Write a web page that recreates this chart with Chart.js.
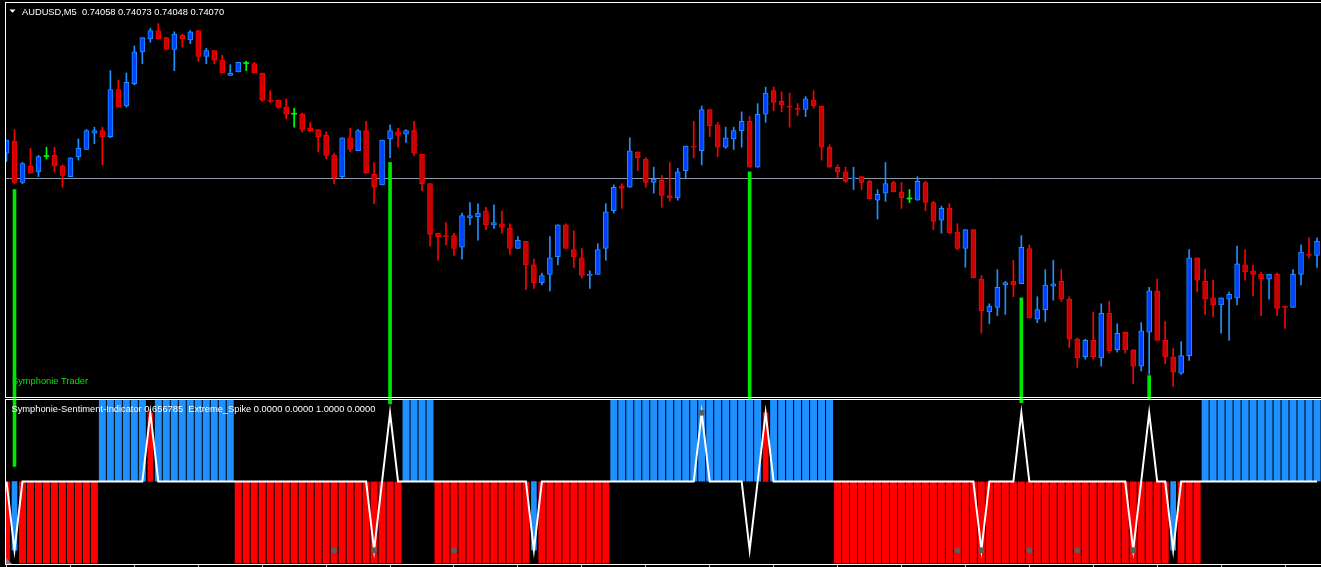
<!DOCTYPE html>
<html><head><meta charset="utf-8">
<script src="https://cdn.jsdelivr.net/npm/chart.js@4/dist/chart.umd.min.js"></script>
<style>html,body{margin:0;padding:0;background:#000;overflow:hidden}canvas{display:block}</style>
</head><body>
<canvas id="c" width="1321" height="567"></canvas>
<script>
const symbol = 'AUDUSD', timeframe = 'M5';
const open = [
0.74145,0.74155,0.74120,0.74134,0.74129,0.74142,0.74143,0.74134,0.74125,0.74142,
0.74148,0.74162,0.74164,0.74159,0.74199,0.74185,0.74204,0.74231,0.74242,0.74249,
0.74243,0.74233,0.74245,0.74241,0.74249,0.74227,0.74232,0.74224,0.74211,0.74214,
0.74221,0.74221,0.74213,0.74190,0.74190,0.74184,0.74178,0.74178,0.74166,0.74165,
0.74160,0.74143,0.74125,0.74158,0.74147,0.74164,0.74127,0.74118,0.74157,0.74163,
0.74161,0.74164,0.74144,0.74119,0.74077,0.74075,0.74075,0.74065,0.74090,0.74091,
0.74096,0.74084,0.74085,0.74081,0.74064,0.74070,0.74050,0.74035,0.74042,0.74057,
0.74084,0.74063,0.74056,0.74041,0.74042,0.74064,0.74096,0.74117,0.74116,0.74146,
0.74140,0.74120,0.74122,0.74109,0.74107,0.74130,0.74151,0.74147,0.74182,0.74169,
0.74150,0.74157,0.74164,0.74172,0.74133,0.74178,0.74198,0.74189,0.74185,0.74183,
0.74182,0.74190,0.74185,0.74150,0.74133,0.74129,0.74123,0.74125,0.74121,0.74105,
0.74111,0.74120,0.74112,0.74106,0.74105,0.74120,0.74103,0.74088,0.74098,0.74078,
0.74064,0.74080,0.74038,0.74010,0.74014,0.74033,0.74036,0.74034,0.74064,0.74004,
0.74012,0.74032,0.74036,0.74021,0.73987,0.73972,0.73986,0.73971,0.74009,0.73978,
0.73993,0.73978,0.73964,0.73993,0.74028,0.73986,0.73972,0.73958,0.73973,0.74056,
0.74036,0.74022,0.74016,0.74021,0.74022,0.74050,0.74045,0.74042,0.74038,0.74042,
0.74015,0.74014,0.74042,0.74059,0.74058];
const high = [
0.74156,0.74165,0.74137,0.74149,0.74143,0.74150,0.74150,0.74135,0.74141,0.74157,
0.74165,0.74167,0.74167,0.74215,0.74207,0.74213,0.74236,0.74243,0.74251,0.74255,
0.74243,0.74248,0.74246,0.74249,0.74249,0.74234,0.74232,0.74228,0.74220,0.74222,
0.74223,0.74222,0.74213,0.74198,0.74190,0.74191,0.74183,0.74179,0.74171,0.74165,
0.74163,0.74145,0.74158,0.74166,0.74165,0.74172,0.74137,0.74156,0.74169,0.74166,
0.74165,0.74172,0.74144,0.74119,0.74077,0.74086,0.74077,0.74094,0.74103,0.74102,
0.74099,0.74101,0.74096,0.74085,0.74074,0.74070,0.74055,0.74043,0.74074,0.74084,
0.74085,0.74079,0.74064,0.74045,0.74068,0.74102,0.74118,0.74119,0.74158,0.74146,
0.74141,0.74133,0.74126,0.74137,0.74132,0.74151,0.74172,0.74185,0.74182,0.74171,
0.74167,0.74167,0.74180,0.74176,0.74187,0.74201,0.74201,0.74197,0.74196,0.74187,
0.74193,0.74198,0.74185,0.74152,0.74135,0.74133,0.74133,0.74125,0.74122,0.74114,
0.74137,0.74121,0.74120,0.74114,0.74125,0.74121,0.74104,0.74100,0.74102,0.74085,
0.74080,0.74080,0.74041,0.74017,0.74046,0.74036,0.74054,0.74075,0.74067,0.74023,
0.74046,0.74054,0.74046,0.74023,0.73988,0.73987,0.74010,0.74017,0.74019,0.74000,
0.73993,0.73978,0.74001,0.74031,0.74038,0.74002,0.73979,0.73985,0.74063,0.74056,
0.74046,0.74037,0.74022,0.74027,0.74066,0.74063,0.74050,0.74044,0.74042,0.74043,
0.74015,0.74046,0.74067,0.74073,0.74073];
const low = [
0.74138,0.74119,0.74119,0.74128,0.74125,0.74140,0.74129,0.74116,0.74125,0.74139,
0.74148,0.74153,0.74135,0.74158,0.74184,0.74184,0.74203,0.74221,0.74239,0.74242,
0.74233,0.74215,0.74235,0.74238,0.74223,0.74221,0.74221,0.74213,0.74211,0.74214,
0.74215,0.74213,0.74189,0.74188,0.74183,0.74174,0.74167,0.74163,0.74163,0.74146,
0.74140,0.74119,0.74124,0.74146,0.74147,0.74128,0.74102,0.74118,0.74141,0.74150,
0.74154,0.74143,0.74113,0.74066,0.74054,0.74067,0.74058,0.74055,0.74084,0.74071,
0.74080,0.74081,0.74077,0.74059,0.74064,0.74029,0.74030,0.74033,0.74028,0.74050,
0.74064,0.74048,0.74039,0.74030,0.74042,0.74054,0.74094,0.74098,0.74116,0.74130,
0.74116,0.74111,0.74099,0.74104,0.74105,0.74124,0.74141,0.74135,0.74159,0.74142,
0.74149,0.74148,0.74150,0.74133,0.74133,0.74171,0.74181,0.74180,0.74167,0.74177,
0.74176,0.74183,0.74139,0.74133,0.74124,0.74120,0.74114,0.74114,0.74106,0.74089,
0.74104,0.74112,0.74098,0.74103,0.74105,0.74096,0.74080,0.74077,0.74077,0.74063,
0.74048,0.74039,0.73992,0.74000,0.74007,0.74008,0.74023,0.74034,0.74005,0.74001,
0.74002,0.74020,0.74019,0.73980,0.73963,0.73970,0.73970,0.73964,0.73975,0.73976,
0.73975,0.73949,0.73960,0.73957,0.73986,0.73966,0.73947,0.73957,0.73969,0.74027,
0.74008,0.74006,0.73992,0.73986,0.74016,0.74037,0.74024,0.74007,0.74021,0.74007,
0.73996,0.74014,0.74033,0.74056,0.74048];
const close = [
0.74156,0.74120,0.74136,0.74128,0.74142,0.74142,0.74134,0.74126,0.74141,0.74149,
0.74164,0.74164,0.74159,0.74199,0.74184,0.74205,0.74231,0.74243,0.74249,0.74242,
0.74233,0.74246,0.74242,0.74248,0.74227,0.74232,0.74224,0.74213,0.74213,0.74222,
0.74221,0.74213,0.74190,0.74189,0.74184,0.74178,0.74178,0.74165,0.74164,0.74159,
0.74143,0.74124,0.74158,0.74148,0.74164,0.74128,0.74116,0.74156,0.74164,0.74160,
0.74164,0.74145,0.74119,0.74076,0.74074,0.74074,0.74064,0.74092,0.74092,0.74094,
0.74084,0.74086,0.74082,0.74064,0.74071,0.74050,0.74035,0.74041,0.74056,0.74084,
0.74064,0.74057,0.74041,0.74042,0.74063,0.74095,0.74116,0.74115,0.74147,0.74141,
0.74120,0.74123,0.74109,0.74107,0.74129,0.74151,0.74150,0.74182,0.74168,0.74150,
0.74158,0.74164,0.74172,0.74133,0.74178,0.74196,0.74188,0.74186,0.74184,0.74182,
0.74191,0.74185,0.74150,0.74133,0.74129,0.74121,0.74124,0.74120,0.74106,0.74110,
0.74119,0.74112,0.74107,0.74106,0.74121,0.74103,0.74087,0.74098,0.74077,0.74064,
0.74080,0.74039,0.74011,0.74015,0.74031,0.74035,0.74033,0.74065,0.74005,0.74012,
0.74033,0.74034,0.74021,0.73987,0.73971,0.73986,0.73972,0.74009,0.73977,0.73992,
0.73978,0.73964,0.73994,0.74028,0.73986,0.73972,0.73959,0.73973,0.74056,0.74037,
0.74021,0.74016,0.74022,0.74025,0.74051,0.74044,0.74042,0.74038,0.74042,0.74013,
0.74014,0.74042,0.74061,0.74058,0.74070];

// Symphonie sentiment histogram (+1 bullish / -1 bearish, null = no bar)
const sentiment = [
-1,null,-1,-1,-1,-1,-1,-1,-1,-1,
-1,-1,1,1,1,1,1,1,null,1,
1,1,1,1,1,1,1,1,1,-1,
-1,-1,-1,-1,-1,-1,-1,-1,-1,-1,
-1,-1,-1,-1,-1,-1,-1,-1,-1,-1,
1,1,1,1,-1,-1,-1,-1,-1,-1,
-1,-1,-1,-1,-1,-1,null,-1,-1,-1,
-1,-1,-1,-1,-1,-1,1,1,1,1,
1,1,1,1,1,1,1,1,1,1,
1,1,1,1,1,null,1,1,1,1,
1,1,1,1,-1,-1,-1,-1,-1,-1,
-1,-1,-1,-1,-1,-1,-1,-1,-1,-1,
-1,-1,-1,-1,-1,-1,-1,-1,-1,-1,
-1,-1,-1,-1,-1,-1,-1,-1,-1,-1,
-1,-1,-1,-1,-1,-1,null,-1,-1,-1,
1,1,1,1,1,1,1,1,1,1,
1,1,1,1,1];
// Extreme_Spike line
const extremeSpike = [
0,-0.84,0,0,0,0,0,0,0,0,
0,0,0,0,0,0,0,0,0.84,0,
0,0,0,0,0,0,0,0,0,0,
0,0,0,0,0,0,0,0,0,0,
0,0,0,0,0,0,-0.84,0,0.84,0,
0,0,0,0,0,0,0,0,0,0,
0,0,0,0,0,0,-0.84,0,0,0,
0,0,0,0,0,0,0,0,0,0,
0,0,0,0,0,0,0,0.84,0,0,
0,0,0,-0.84,0,0.84,0,0,0,0,
0,0,0,0,0,0,0,0,0,0,
0,0,0,0,0,0,0,0,0,0,
0,0,-0.84,0,0,0,0,0.84,0,0,
0,0,0,0,0,0,0,0,0,0,
0,-0.84,0,0.84,0,0,-0.84,0,0,0,
0,0,0,0,0,0,0,0,0,0,
0,0,0,0,0];
// extreme spike histogram bars
const spikeBarIdx = [1, 18, 66, 95, 146];
const spikeBarVal = [-0.84, 0.84, -0.84, 0.84, -0.84];
// grey marker dots
const markerIdx = [41, 46, 56, 87, 119, 122, 128, 134, 141];
const markerVal = [-0.84, -0.84, -0.84, 0.84, -0.84, -0.84, -0.84, -0.84, -0.84];
// Symphonie Trader signal lines (price from / to)
const signalIdx = [1, 48, 93, 127, 143];
const signalTop = [0.74114, 0.74137, 0.74129, 0.74022, 0.73956];
const signalBottom = [0.73879, 0.73932, 0.73936, 0.73933, 0.73936];
const levelPrice = 0.74123;
const indicatorText = 'Symphonie-Sentiment-Indicator 0.656785  Extreme_Spike 0.0000 0.0000 1.0000 0.0000';
const traderText = 'Symphonie Trader';

const labels = open.map((_, i) => 'bar' + i);
const UP_LINE = '#1e90ff', UP_FILL = '#0040ff', DN_LINE = '#ff0000', DN_FILL = '#c80000', DOJI = '#00ff00';
const dir = i => close[i] > open[i] ? 1 : (close[i] < open[i] ? -1 : 0);
const lineCol = i => dir(i) > 0 ? UP_LINE : (dir(i) < 0 ? DN_LINE : DOJI);
const fillCol = i => dir(i) > 0 ? UP_FILL : (dir(i) < 0 ? DN_FILL : DOJI);

const panelPlugin = {
  id: 'panels',
  beforeDatasetsDraw(chart) {
    const ctx = chart.ctx, yP = chart.scales.yP;
    ctx.save();
    ctx.strokeStyle = '#8c96a0'; ctx.lineWidth = 1;
    const y = Math.floor(yP.getPixelForValue(levelPrice)) + 0.5;
    ctx.beginPath(); ctx.moveTo(6, y); ctx.lineTo(chart.width, y); ctx.stroke();
    ctx.restore();
    ctx.save();
    ctx.beginPath(); ctx.rect(6, 0, chart.width - 6, chart.height); ctx.clip();
  },
  afterDatasetsDraw(chart) { chart.ctx.restore(); },
  afterDraw(chart) {
    const ctx = chart.ctx, W = chart.width;
    const yP = chart.scales.yP, yI = chart.scales.yI;
    ctx.save();
    ctx.strokeStyle = '#ffffff'; ctx.lineWidth = 1;
    const pb = Math.round(yP.bottom) - 0.5, it = Math.round(yI.top) + 1.5, ib = Math.round(yI.bottom) + 0.5;
    ctx.beginPath();
    ctx.moveTo(5, 2.5); ctx.lineTo(W, 2.5);
    ctx.moveTo(5.5, 2); ctx.lineTo(5.5, pb + 0.5);
    ctx.moveTo(5, pb); ctx.lineTo(W, pb);
    ctx.moveTo(5, it); ctx.lineTo(W, it);
    ctx.moveTo(5.5, it); ctx.lineTo(5.5, ib);
    ctx.moveTo(5, ib); ctx.lineTo(W, ib);
    ctx.stroke();
    // small markers
    ctx.fillStyle = '#ffffff';
    ctx.beginPath(); ctx.moveTo(9.5, 9.5); ctx.lineTo(15.5, 9.5); ctx.lineTo(12.5, 12.8); ctx.closePath(); ctx.fill();
    ctx.fillStyle = '#808080';
    ctx.beginPath(); ctx.moveTo(6, 558); ctx.lineTo(6, 564); ctx.lineTo(12, 564); ctx.closePath(); ctx.fill();
    // texts
    const n = close.length - 1;
    ctx.font = '9.3px "Liberation Sans", Arial, sans-serif';
    ctx.textBaseline = 'alphabetic'; ctx.textAlign = 'left';
    ctx.fillStyle = '#ffffff';
    ctx.fillText(symbol + ',' + timeframe + '  ' + open[n].toFixed(5) + ' ' + high[n].toFixed(5) + ' ' + low[n].toFixed(5) + ' ' + close[n].toFixed(5), 22, 14.5);
    ctx.fillText(indicatorText, 11.5, 412);
    ctx.fillStyle = '#00e600';
    ctx.fillText(traderText, 12, 383.5);
    ctx.restore();
  }
};

new Chart(document.getElementById('c'), {
  type: 'bar',
  data: {
    labels,
    datasets: [
      { type: 'line', label: 'markers', yAxisID: 'yI', order: 0,
        data: markerIdx.map((k, i) => ({ x: labels[k], y: markerVal[i] })),
        showLine: false, pointRadius: 3, pointHoverRadius: 3, pointBackgroundColor: '#5c5c5c', pointBorderWidth: 0 },
      { type: 'bar', label: 'signals', yAxisID: 'yP', order: 1, grouped: false, clip: false,
        data: signalIdx.map((k, i) => ({ x: labels[k], y: [signalBottom[i], signalTop[i]] })),
        backgroundColor: '#00e600', barThickness: 3, borderWidth: 0 },
      { type: 'line', label: 'Extreme_Spike', yAxisID: 'yI', order: 2,
        data: extremeSpike, borderColor: '#ffffff', borderWidth: 2, pointRadius: 0, tension: 0 },
      { type: 'bar', label: 'spikeBars', yAxisID: 'yI', order: 3, grouped: false,
        data: spikeBarIdx.map((k, i) => ({ x: labels[k], y: spikeBarVal[i] })),
        backgroundColor: c => spikeBarVal[c.dataIndex] > 0 ? '#ff0000' : '#1e90ff', barThickness: 5, borderWidth: 0 },
      { type: 'bar', label: 'sentiment', yAxisID: 'yI', order: 4, grouped: false,
        data: sentiment, backgroundColor: c => c.raw > 0 ? '#1e90ff' : '#ff0000',
        barPercentage: 1, categoryPercentage: 0.875, borderWidth: 0 },
      { type: 'bar', label: 'body', yAxisID: 'yP', order: 5, grouped: false,
        data: open.map((o, i) => [o, close[i]]),
        backgroundColor: c => fillCol(c.dataIndex), borderColor: c => lineCol(c.dataIndex),
        borderWidth: c => dir(c.dataIndex) === 0 ? 0 : 1, borderSkipped: false, barThickness: 5, minBarLength: 1 },
      { type: 'bar', label: 'wick', yAxisID: 'yP', order: 6, grouped: false,
        data: low.map((l, i) => [l, high[i]]),
        backgroundColor: c => lineCol(c.dataIndex), barThickness: 1, borderWidth: 0 }
    ]
  },
  options: {
    responsive: false, animation: false, events: [],
    layout: { autoPadding: false, padding: { left: 2.5, right: -1.5, top: 0, bottom: 0 } },
    plugins: { legend: { display: false }, tooltip: { enabled: false } },
    scales: {
      x: { type: 'category', offset: true, display: true,
        ticks: { display: false },
        grid: { display: true, drawOnChartArea: false, drawTicks: true, tickLength: 3, color: '#c8c8c8', offset: false },
        border: { display: false },
        afterBuildTicks: axis => { axis.ticks = axis.ticks.filter(t => t.value % 8 === 0); } },
      yP: { type: 'linear', display: false, position: 'left', stack: 'panes', stackWeight: 398, weight: 2,
        min: 0.73937, max: 0.74275 },
      yI: { type: 'linear', display: false, position: 'left', stack: 'panes', stackWeight: 166, weight: 1,
        min: -1.0092, max: 1.0214 }
    }
  },
  plugins: [panelPlugin]
});
</script>
</body></html>
